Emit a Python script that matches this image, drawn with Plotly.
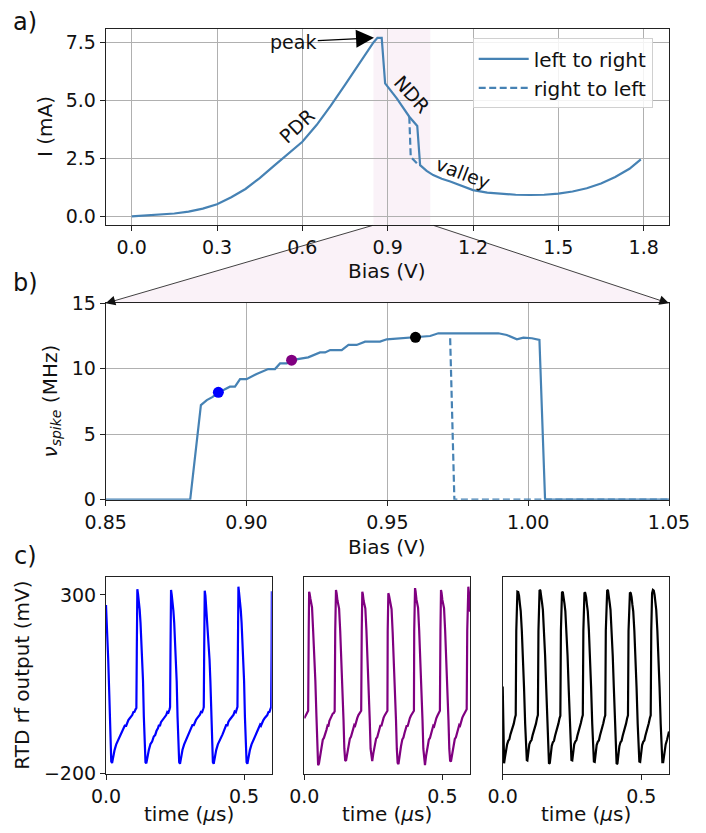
import plotly.graph_objects as go

W, H = 706, 833

# ---------------- panel a : I-V curve ----------------
iv_bias = [0.0, 0.05, 0.1, 0.15, 0.2, 0.25, 0.3, 0.35, 0.4, 0.45, 0.5, 0.55, 0.6, 0.65, 0.7, 0.75, 0.8, 0.85,
           0.864, 0.879, 0.891, 0.932, 0.976, 1.004, 1.014, 1.037, 1.06, 1.09, 1.12, 1.16, 1.2, 1.25,
           1.3, 1.35, 1.4, 1.45, 1.5, 1.55, 1.6, 1.65, 1.7, 1.75, 1.79]
iv_current = [0.0, 0.03, 0.07, 0.12, 0.20, 0.33, 0.52, 0.82, 1.18, 1.65, 2.18, 2.70, 3.22, 3.94, 4.78, 5.68, 6.60, 7.51,
              7.71, 7.71, 5.74, 5.09, 4.30, 3.90, 2.21, 1.96, 1.78, 1.62, 1.50, 1.30, 1.13, 1.02,
              0.96, 0.93, 0.92, 0.93, 0.98, 1.07, 1.21, 1.42, 1.70, 2.05, 2.46]
iv_back_bias = [0.976, 0.981, 1.011]
iv_back_current = [4.30, 2.57, 2.18]

# ---------------- panel b : spike frequency ----------------
nu_bias = [0.850, 0.880, 0.8838, 0.8859, 0.8880, 0.8900, 0.8920, 0.8941, 0.8959, 0.8977, 0.9000,
           0.9036, 0.9077, 0.9101, 0.9119, 0.9143, 0.9160, 0.9190, 0.9219, 0.9261, 0.9279, 0.9297,
           0.9338, 0.9362, 0.9391, 0.9421, 0.9474, 0.9498, 0.9545, 0.9601, 0.9652, 0.9681, 0.9723,
           0.9758, 0.9805, 0.9841, 0.9894, 0.9924, 0.9960, 0.9983, 1.0013, 1.0040, 1.0060, 1.0500]
nu_freq = [0.0, 0.0, 7.23, 7.61, 7.85, 8.20, 8.40, 8.63, 8.63, 9.21, 9.21,
           9.60, 9.98, 9.98, 10.41, 10.41, 10.66, 10.79, 10.87, 11.25, 11.25, 11.43,
           11.43, 11.82, 11.82, 12.07, 12.07, 12.25, 12.33, 12.40, 12.50, 12.71, 12.71,
           12.76, 12.71, 12.76, 12.71, 12.58, 12.25, 12.38, 12.33, 12.20, 0.0, 0.0]
nu_back_bias = [0.9723, 0.9738, 1.05]
nu_back_freq = [12.33, 0.0, 0.0]
op_bias = [0.890, 0.916, 0.960]
op_freq = [8.20, 10.66, 12.40]
op_colors = ["#0000ff", "#800080", "#000000"]

# ---------------- panel c : RTD rf output traces (t in us, V in mV) ----------------
blue_pts = [
    (0.000, 272), (0.004, 205), (0.008, 120), (0.012, 20), (0.016, -110), (0.019, -166), (0.022, -170),
    (0.026, -150), (0.031, -134), (0.037, -118), (0.043, -108), (0.049, -97), (0.055, -90), (0.060, -80),
    (0.065, -72), (0.069, -64), (0.072, -68), (0.076, -57), (0.081, -50), (0.086, -45), (0.091, -40),
    (0.095, -36), (0.099, -28), (0.103, -27), (0.107, -20), (0.110, -16),
    (0.1115, 140), (0.1125, 305), (0.1135, 316),
    (0.116, 302), (0.119, 262), (0.122, 258), (0.125, 222), (0.128, 172), (0.131, 122), (0.134, 60),
    (0.137, -40), (0.140, -130), (0.143, -168), (0.146, -171),
    (0.150, -150), (0.155, -134), (0.161, -117), (0.167, -110), (0.173, -96), (0.178, -92), (0.183, -80),
    (0.188, -73), (0.192, -63), (0.195, -67), (0.199, -56), (0.204, -50), (0.209, -46), (0.214, -40),
    (0.218, -36), (0.222, -27), (0.226, -29), (0.230, -20), (0.232, -14),
    (0.2335, 140), (0.2345, 300), (0.2355, 314),
    (0.238, 300), (0.241, 262), (0.244, 256), (0.247, 222), (0.250, 170), (0.253, 120), (0.256, 58),
    (0.259, -40), (0.262, -130), (0.265, -168), (0.268, -172),
    (0.272, -150), (0.277, -133), (0.283, -118), (0.289, -108), (0.295, -97), (0.300, -90), (0.305, -80),
    (0.310, -72), (0.314, -62), (0.317, -66), (0.321, -55), (0.326, -49), (0.331, -44), (0.336, -40),
    (0.340, -35), (0.344, -27), (0.348, -28), (0.352, -19), (0.354, -14),
    (0.3555, 140), (0.3565, 300), (0.3575, 312),
    (0.360, 298), (0.363, 262), (0.366, 255), (0.369, 220), (0.372, 170), (0.375, 118), (0.378, 58),
    (0.381, -40), (0.384, -130), (0.387, -168), (0.390, -172),
    (0.394, -150), (0.399, -134), (0.405, -118), (0.411, -109), (0.417, -97), (0.422, -90), (0.427, -80),
    (0.432, -72), (0.436, -62), (0.439, -67), (0.443, -55), (0.448, -49), (0.453, -44), (0.458, -38),
    (0.462, -35), (0.466, -26), (0.470, -28), (0.474, -18), (0.476, -13),
    (0.4775, 140), (0.4785, 310), (0.4795, 323),
    (0.482, 305), (0.485, 265), (0.488, 258), (0.491, 222), (0.494, 172), (0.497, 120), (0.500, 60),
    (0.503, -40), (0.506, -130), (0.509, -168), (0.512, -172),
    (0.516, -150), (0.521, -134), (0.527, -118), (0.533, -108), (0.539, -96), (0.544, -90), (0.549, -80),
    (0.554, -72), (0.558, -63), (0.561, -66), (0.565, -56), (0.570, -50), (0.575, -44), (0.580, -40),
    (0.584, -36), (0.588, -28), (0.592, -27), (0.596, -18), (0.598, -14),
    (0.5995, 140), (0.6005, 310),
]
purple_pts = [
    (0.000, -45), (0.004, -40), (0.008, -31), (0.012, -28), (0.014, -24), (0.016, 200), (0.0175, 309),
    (0.019, 305), (0.022, 290), (0.025, 275), (0.028, 265), (0.032, 200), (0.036, 140), (0.040, 60),
    (0.044, -40), (0.047, -130), (0.050, -176), (0.053, -172),
    (0.057, -150), (0.062, -125), (0.067, -105), (0.071, -100), (0.075, -86), (0.080, -78), (0.084, -66),
    (0.087, -68), (0.091, -52), (0.095, -44), (0.099, -38), (0.103, -32), (0.107, -30), (0.110, -25),
    (0.112, 200), (0.1147, 314),
    (0.117, 305), (0.120, 285), (0.123, 272), (0.126, 262), (0.130, 200), (0.134, 130), (0.138, 50),
    (0.142, -50), (0.145, -130), (0.148, -162), (0.151, -164),
    (0.155, -142), (0.160, -120), (0.165, -102), (0.169, -97), (0.173, -84), (0.177, -76), (0.181, -64),
    (0.184, -66), (0.188, -51), (0.192, -44), (0.196, -36), (0.200, -32), (0.204, -28), (0.206, -24),
    (0.208, 200), (0.210, 309),
    (0.212, 302), (0.215, 283), (0.218, 270), (0.221, 262), (0.225, 200), (0.229, 130), (0.233, 50),
    (0.237, -50), (0.240, -130), (0.243, -162), (0.246, -165),
    (0.250, -143), (0.255, -121), (0.260, -102), (0.264, -98), (0.268, -85), (0.272, -76), (0.276, -64),
    (0.279, -67), (0.283, -52), (0.287, -44), (0.291, -37), (0.295, -31), (0.299, -28), (0.301, -24),
    (0.302, 200), (0.3043, 305),
    (0.307, 298), (0.310, 280), (0.313, 268), (0.316, 260), (0.320, 195), (0.324, 128), (0.328, 50),
    (0.332, -50), (0.335, -130), (0.338, -170), (0.341, -173),
    (0.345, -148), (0.350, -124), (0.355, -104), (0.359, -99), (0.363, -86), (0.367, -77), (0.371, -65),
    (0.374, -68), (0.378, -53), (0.382, -45), (0.386, -38), (0.390, -32), (0.394, -29), (0.397, -24),
    (0.398, 200), (0.401, 319),
    (0.403, 310), (0.406, 288), (0.409, 274), (0.412, 264), (0.416, 200), (0.420, 130), (0.424, 50),
    (0.428, -50), (0.431, -130), (0.434, -172), (0.437, -176),
    (0.441, -150), (0.446, -125), (0.451, -105), (0.455, -100), (0.459, -86), (0.463, -78), (0.467, -66),
    (0.470, -68), (0.474, -53), (0.478, -45), (0.482, -38), (0.486, -32), (0.489, -29), (0.491, -24),
    (0.493, 200), (0.495, 314),
    (0.497, 306), (0.500, 286), (0.503, 272), (0.506, 263), (0.510, 200), (0.514, 130), (0.518, 50),
    (0.522, -50), (0.525, -130), (0.528, -164), (0.531, -166),
    (0.535, -144), (0.540, -122), (0.545, -103), (0.549, -98), (0.553, -85), (0.557, -76), (0.561, -64),
    (0.564, -66), (0.568, -51), (0.572, -44), (0.576, -37), (0.580, -31), (0.584, -28), (0.588, -20),
    (0.590, 200), (0.594, 323), (0.597, 300), (0.600, 253),
]
black_pts = [
    (0.000, 44), (0.002, -40), (0.004, -140), (0.005, -171), (0.008, -155), (0.012, -132), (0.016, -118),
    (0.020, -108), (0.024, -104), (0.028, -90), (0.032, -80), (0.036, -72), (0.040, -60), (0.044, -44),
    (0.047, -36),
    (0.049, 200), (0.051, 300), (0.053, 309), (0.056, 308), (0.059, 298), (0.062, 275), (0.065, 255),
    (0.069, 200), (0.073, 130), (0.077, 40), (0.081, -60), (0.084, -130), (0.087, -162), (0.089, -163),
    (0.092, -138), (0.096, -118), (0.100, -110), (0.104, -106), (0.108, -92), (0.112, -82), (0.116, -72),
    (0.120, -60), (0.124, -44), (0.127, -36),
    (0.129, 200), (0.131, 305), (0.133, 314), (0.136, 312), (0.139, 300), (0.142, 278), (0.145, 258),
    (0.149, 200), (0.153, 130), (0.157, 40), (0.161, -60), (0.164, -135), (0.167, -172), (0.170, -170),
    (0.173, -145), (0.177, -122), (0.181, -112), (0.185, -108), (0.189, -94), (0.193, -84), (0.197, -72),
    (0.201, -60), (0.205, -45), (0.208, -38),
    (0.210, 200), (0.212, 300), (0.214, 309), (0.217, 307), (0.220, 296), (0.223, 275), (0.226, 255),
    (0.230, 200), (0.234, 130), (0.238, 40), (0.242, -60), (0.245, -130), (0.248, -162), (0.251, -163),
    (0.254, -140), (0.258, -118), (0.262, -110), (0.266, -106), (0.270, -92), (0.274, -82), (0.278, -70),
    (0.282, -58), (0.286, -44), (0.289, -36),
    (0.291, 200), (0.293, 298), (0.295, 307), (0.298, 305), (0.301, 294), (0.304, 272), (0.307, 254),
    (0.311, 200), (0.315, 130), (0.319, 40), (0.323, -60), (0.326, -130), (0.329, -166), (0.332, -167),
    (0.335, -142), (0.339, -120), (0.343, -111), (0.347, -107), (0.351, -93), (0.355, -83), (0.359, -71),
    (0.363, -59), (0.367, -44), (0.370, -37),
    (0.372, 200), (0.375, 305), (0.377, 314), (0.380, 312), (0.383, 300), (0.386, 278), (0.389, 258),
    (0.393, 200), (0.397, 130), (0.401, 40), (0.405, -60), (0.408, -135), (0.411, -173), (0.414, -171),
    (0.417, -146), (0.421, -123), (0.425, -112), (0.429, -108), (0.433, -94), (0.437, -84), (0.441, -72),
    (0.445, -60), (0.449, -45), (0.452, -37),
    (0.454, 200), (0.457, 298), (0.459, 307), (0.462, 305), (0.465, 294), (0.468, 272), (0.471, 254),
    (0.475, 200), (0.479, 130), (0.483, 40), (0.487, -60), (0.490, -130), (0.493, -166), (0.496, -167),
    (0.499, -142), (0.503, -120), (0.507, -111), (0.511, -107), (0.515, -93), (0.519, -83), (0.523, -71),
    (0.527, -59), (0.531, -44), (0.534, -37),
    (0.536, 200), (0.539, 305), (0.542, 314), (0.545, 312), (0.548, 300), (0.551, 278), (0.554, 258),
    (0.558, 200), (0.562, 130), (0.566, 40), (0.570, -60), (0.573, -135), (0.576, -168), (0.579, -168),
    (0.583, -140), (0.588, -118), (0.593, -105), (0.597, -92), (0.600, -82),
]
blue_t = [p[0] for p in blue_pts]
blue_v = [p[1] for p in blue_pts]
purple_t = [p[0] for p in purple_pts]
purple_v = [p[1] for p in purple_pts]
black_t = [p[0] for p in black_pts]
black_v = [p[1] for p in black_pts]

# ---------------- layout helpers (pixel geometry) ----------------
FONT = "DejaVu Sans"
STEEL = "#4682b4"


def xdom(l, r):
    return [l / W, r / W]


def ydom(t, b):
    return [1 - b / H, 1 - t / H]


def px(x):
    return x / W


def py(y):
    return 1 - y / H


axis_base = dict(
    showline=True, mirror=True, linecolor="#222222", linewidth=1.1,
    ticks="outside", ticklen=5, tickwidth=1, tickcolor="#222222",
    tickfont=dict(family=FONT, size=19, color="#111111"),
    zeroline=False, fixedrange=True, automargin=False,
)

fig = go.Figure()

# panel a traces
fig.add_trace(go.Scatter(x=iv_bias, y=iv_current, mode="lines", name="left to right",
                         line=dict(color=STEEL, width=2.2), xaxis="x", yaxis="y"))
fig.add_trace(go.Scatter(x=iv_back_bias, y=iv_back_current, mode="lines", name="right to left",
                         line=dict(color=STEEL, width=2.2, dash="7px,3.5px"), xaxis="x", yaxis="y"))

# panel b traces
fig.add_trace(go.Scatter(x=nu_bias, y=nu_freq, mode="lines", showlegend=False,
                         line=dict(color=STEEL, width=2.2), xaxis="x2", yaxis="y2"))
fig.add_trace(go.Scatter(x=nu_back_bias, y=nu_back_freq, mode="lines", showlegend=False,
                         line=dict(color=STEEL, width=2.2, dash="7px,3.5px"), xaxis="x2", yaxis="y2"))
fig.add_trace(go.Scatter(x=op_bias, y=op_freq, mode="markers", showlegend=False,
                         marker=dict(color=op_colors, size=11, line=dict(width=0)),
                         xaxis="x2", yaxis="y2"))

# panel c traces
fig.add_trace(go.Scatter(x=blue_t, y=blue_v, mode="lines", showlegend=False,
                         line=dict(color="#0000ff", width=2.2), xaxis="x3", yaxis="y3"))
fig.add_trace(go.Scatter(x=purple_t, y=purple_v, mode="lines", showlegend=False,
                         line=dict(color="#800080", width=2.2), xaxis="x4", yaxis="y4"))
fig.add_trace(go.Scatter(x=black_t, y=black_v, mode="lines", showlegend=False,
                         line=dict(color="#000000", width=2.2), xaxis="x5", yaxis="y5"))

grid = dict(showgrid=True, gridcolor="#b0b0b0", gridwidth=1)

layout = dict(
    width=W, height=H,
    margin=dict(l=0, r=0, t=0, b=0, pad=0),
    paper_bgcolor="white", plot_bgcolor="rgba(0,0,0,0)",
    font=dict(family=FONT, size=19, color="#111111"),
    xaxis=dict(axis_base, **grid, domain=xdom(105.7, 668.7), range=[-0.0914, 1.888],
               tickvals=[0, 0.3, 0.6, 0.9, 1.2, 1.5, 1.8], tickformat=".1f", anchor="y"),
    yaxis=dict(axis_base, **grid, domain=ydom(29, 225), range=[-0.376, 8.09],
               tickvals=[0, 2.5, 5, 7.5], tickformat=".1f", anchor="x"),
    xaxis2=dict(axis_base, **grid, domain=xdom(105.7, 669), range=[0.85, 1.05],
                tickvals=[0.85, 0.9, 0.95, 1.0, 1.05], tickformat=".2f", anchor="y2"),
    yaxis2=dict(axis_base, **grid, domain=ydom(303.3, 499.7), range=[0, 15],
                tickvals=[0, 5, 10, 15], tickformat="d", anchor="x2"),
    xaxis3=dict(axis_base, showgrid=False, domain=xdom(106, 271.7), range=[0, 0.6],
                tickvals=[0, 0.5], tickformat=".1f", anchor="y3"),
    yaxis3=dict(axis_base, showgrid=False, domain=ydom(576.7, 773.7), range=[-200, 351],
                tickvals=[-200, 300], ticktext=["\u2212200", "300"], anchor="x3"),
    xaxis4=dict(axis_base, showgrid=False, domain=xdom(304.3, 470), range=[0, 0.6],
                tickvals=[0, 0.5], tickformat=".1f", anchor="y4"),
    yaxis4=dict(axis_base, showgrid=False, domain=ydom(576.7, 773.7), range=[-200, 351],
                showticklabels=False, ticks="", anchor="x4"),
    xaxis5=dict(axis_base, showgrid=False, domain=xdom(502.7, 669), range=[0, 0.6],
                tickvals=[0, 0.5], tickformat=".1f", anchor="y5"),
    yaxis5=dict(axis_base, showgrid=False, domain=ydom(576.7, 773.7), range=[-200, 351],
                showticklabels=False, ticks="", anchor="x5"),
    legend=dict(x=px(472.7), y=py(38.3), xanchor="left", yanchor="top",
                bgcolor="rgba(255,255,255,0.85)", bordercolor="#d0d0d0", borderwidth=1,
                itemwidth=50, font=dict(family=FONT, size=20, color="#111111")),
    showlegend=True,
)
fig.update_layout(**layout)

# shaded bias window in panel a and the zoom connector
fig.add_shape(type="rect", xref="x", yref="y domain", x0=0.85, x1=1.05, y0=0, y1=1,
              fillcolor="rgb(250,242,248)", line=dict(width=0), layer="below")
connector = "M {},{} L {},{} L {},{} L {},{} Z".format(
    px(374), py(225), px(432.3), py(225), px(669), py(303.3), px(105.7), py(303.3))
fig.add_shape(type="path", xref="paper", yref="paper", path=connector,
              fillcolor="rgb(250,242,248)", line=dict(width=0), layer="below")

ann = []
# connector arrows
ann.append(dict(xref="paper", yref="paper", x=px(105.7), y=py(303.3), axref="pixel", ayref="pixel",
                ax=374 - 105.7, ay=225 - 303.3, text="", showarrow=True, arrowhead=2,
                arrowsize=2.4, arrowwidth=0.8, arrowcolor="#111111"))
ann.append(dict(xref="paper", yref="paper", x=px(669), y=py(303.3), axref="pixel", ayref="pixel",
                ax=432.3 - 669, ay=225 - 303.3, text="", showarrow=True, arrowhead=2,
                arrowsize=2.4, arrowwidth=0.8, arrowcolor="#111111"))
# peak arrow
ann.append(dict(xref="x", yref="y", x=0.852, y=7.71, axref="x", ayref="y", ax=0.568, ay=7.54,
                text="peak", showarrow=True, arrowhead=2, arrowsize=3, arrowwidth=1.2,
                arrowcolor="#000000", font=dict(family=FONT, size=19, color="#111111")))
# region labels
ann.append(dict(xref="x", yref="y", x=0.58, y=3.92, text="PDR", showarrow=False, textangle=-43,
                font=dict(family=FONT, size=19, color="#111111")))
ann.append(dict(xref="x", yref="y", x=0.985, y=5.28, text="NDR", showarrow=False, textangle=48,
                font=dict(family=FONT, size=19, color="#111111")))
ann.append(dict(xref="x", yref="y", x=1.166, y=1.89, text="valley", showarrow=False, textangle=21,
                font=dict(family=FONT, size=19, color="#111111")))

# axis titles
tf = dict(family=FONT, size=20, color="#111111")
ann.append(dict(xref="paper", yref="paper", x=px(387.2), y=py(271), text="Bias (V)",
                showarrow=False, font=tf, xanchor="center", yanchor="middle"))
ann.append(dict(xref="paper", yref="paper", x=px(45), y=py(127), text="I (mA)", textangle=-90,
                showarrow=False, font=tf, xanchor="center", yanchor="middle"))
ann.append(dict(xref="paper", yref="paper", x=px(387.3), y=py(546.7), text="Bias (V)",
                showarrow=False, font=tf, xanchor="center", yanchor="middle"))
ann.append(dict(xref="paper", yref="paper", x=px(50), y=py(401.5),
                text="<i>\u03bd<sub>spike</sub></i> (MHz)", textangle=-90,
                showarrow=False, font=tf, xanchor="center", yanchor="middle"))
ann.append(dict(xref="paper", yref="paper", x=px(21.7), y=py(675), text="RTD rf output (mV)",
                textangle=-90, showarrow=False, font=tf, xanchor="center", yanchor="middle"))
for cx in (188.85, 387.15, 585.85):
    ann.append(dict(xref="paper", yref="paper", x=px(cx), y=py(814), text="time (<i>\u03bc</i>s)",
                    showarrow=False, font=tf, xanchor="center", yanchor="middle"))

# panel letters
lf = dict(family=FONT, size=24, color="#111111")
for lab, cy in (("a)", 22.5), ("b)", 283), ("c)", 556)):
    ann.append(dict(xref="paper", yref="paper", x=px(25), y=py(cy), text=lab, showarrow=False,
                    font=lf, xanchor="center", yanchor="middle"))

fig.update_layout(annotations=ann)

fig.write_html("out.html", config={"displayModeBar": False},
               post_script="document.body.style.margin='0';document.body.style.overflow='hidden';")
